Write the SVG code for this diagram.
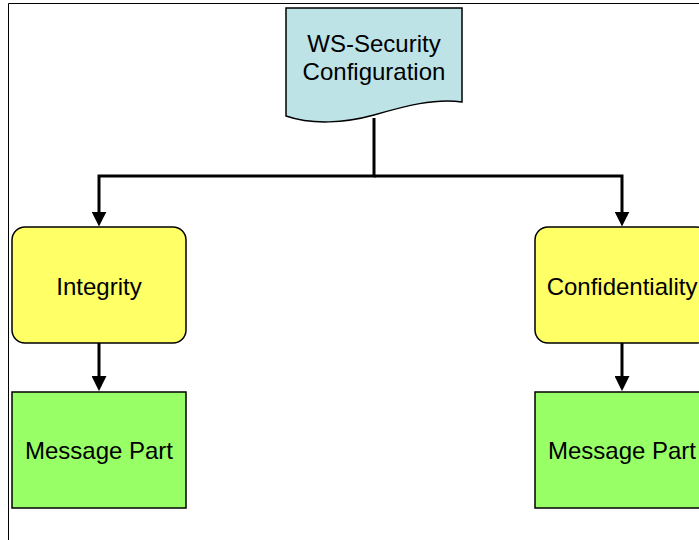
<svg xmlns="http://www.w3.org/2000/svg" width="699" height="540" viewBox="0 0 699 540">
<style>
.lbl{font-family:"Liberation Sans",Arial,sans-serif;font-size:24px;fill:#000;text-anchor:middle}
.conn{stroke:#000;stroke-width:3;fill:none}
.box{stroke:#000;stroke-width:1.5}
</style>
<defs>
<marker id="ah" markerWidth="5" markerHeight="5" refX="0.3" refY="2.5" orient="auto" markerUnits="strokeWidth">
<path d="M0,0 L5,2.5 L0,5 Z" fill="#000"/>
</marker>
</defs>
<rect x="0" y="0" width="699" height="540" fill="#fff"/>
<path d="M699,3.5 H8.5 V540" stroke="#000" stroke-width="1" fill="none"/>
<g id="connectors">
<path class="conn" d="M374,118 V176 H99 V212.5" marker-end="url(#ah)"/>
<path class="conn" d="M374,176 H622 V212.5" marker-end="url(#ah)"/>
<path class="conn" d="M99,343 V377" marker-end="url(#ah)"/>
<path class="conn" d="M622,343 V377" marker-end="url(#ah)"/>
</g>
<g id="ws-security">
<path class="box" fill="#bde3e6" d="M286,8 H462 V102 C435,98 405,106 374,115 C345,123 312,125 286,116 Z"/>
<text class="lbl" x="374" y="52">WS-Security</text>
<text class="lbl" x="374" y="80">Configuration</text>
</g>
<g id="integrity">
<rect class="box" x="12" y="227" width="174" height="116" rx="13" fill="#ffff66"/>
<text class="lbl" x="99" y="295">Integrity</text>
</g>
<g id="confidentiality">
<rect class="box" x="535" y="227" width="174" height="116" rx="13" fill="#ffff66"/>
<text class="lbl" x="622" y="295">Confidentiality</text>
</g>
<g id="message-part-left">
<rect class="box" x="12" y="392" width="174" height="116" fill="#99ff66"/>
<text class="lbl" x="99" y="459">Message Part</text>
</g>
<g id="message-part-right">
<rect class="box" x="535" y="392" width="174" height="116" fill="#99ff66"/>
<text class="lbl" x="622" y="459">Message Part</text>
</g>
</svg>
